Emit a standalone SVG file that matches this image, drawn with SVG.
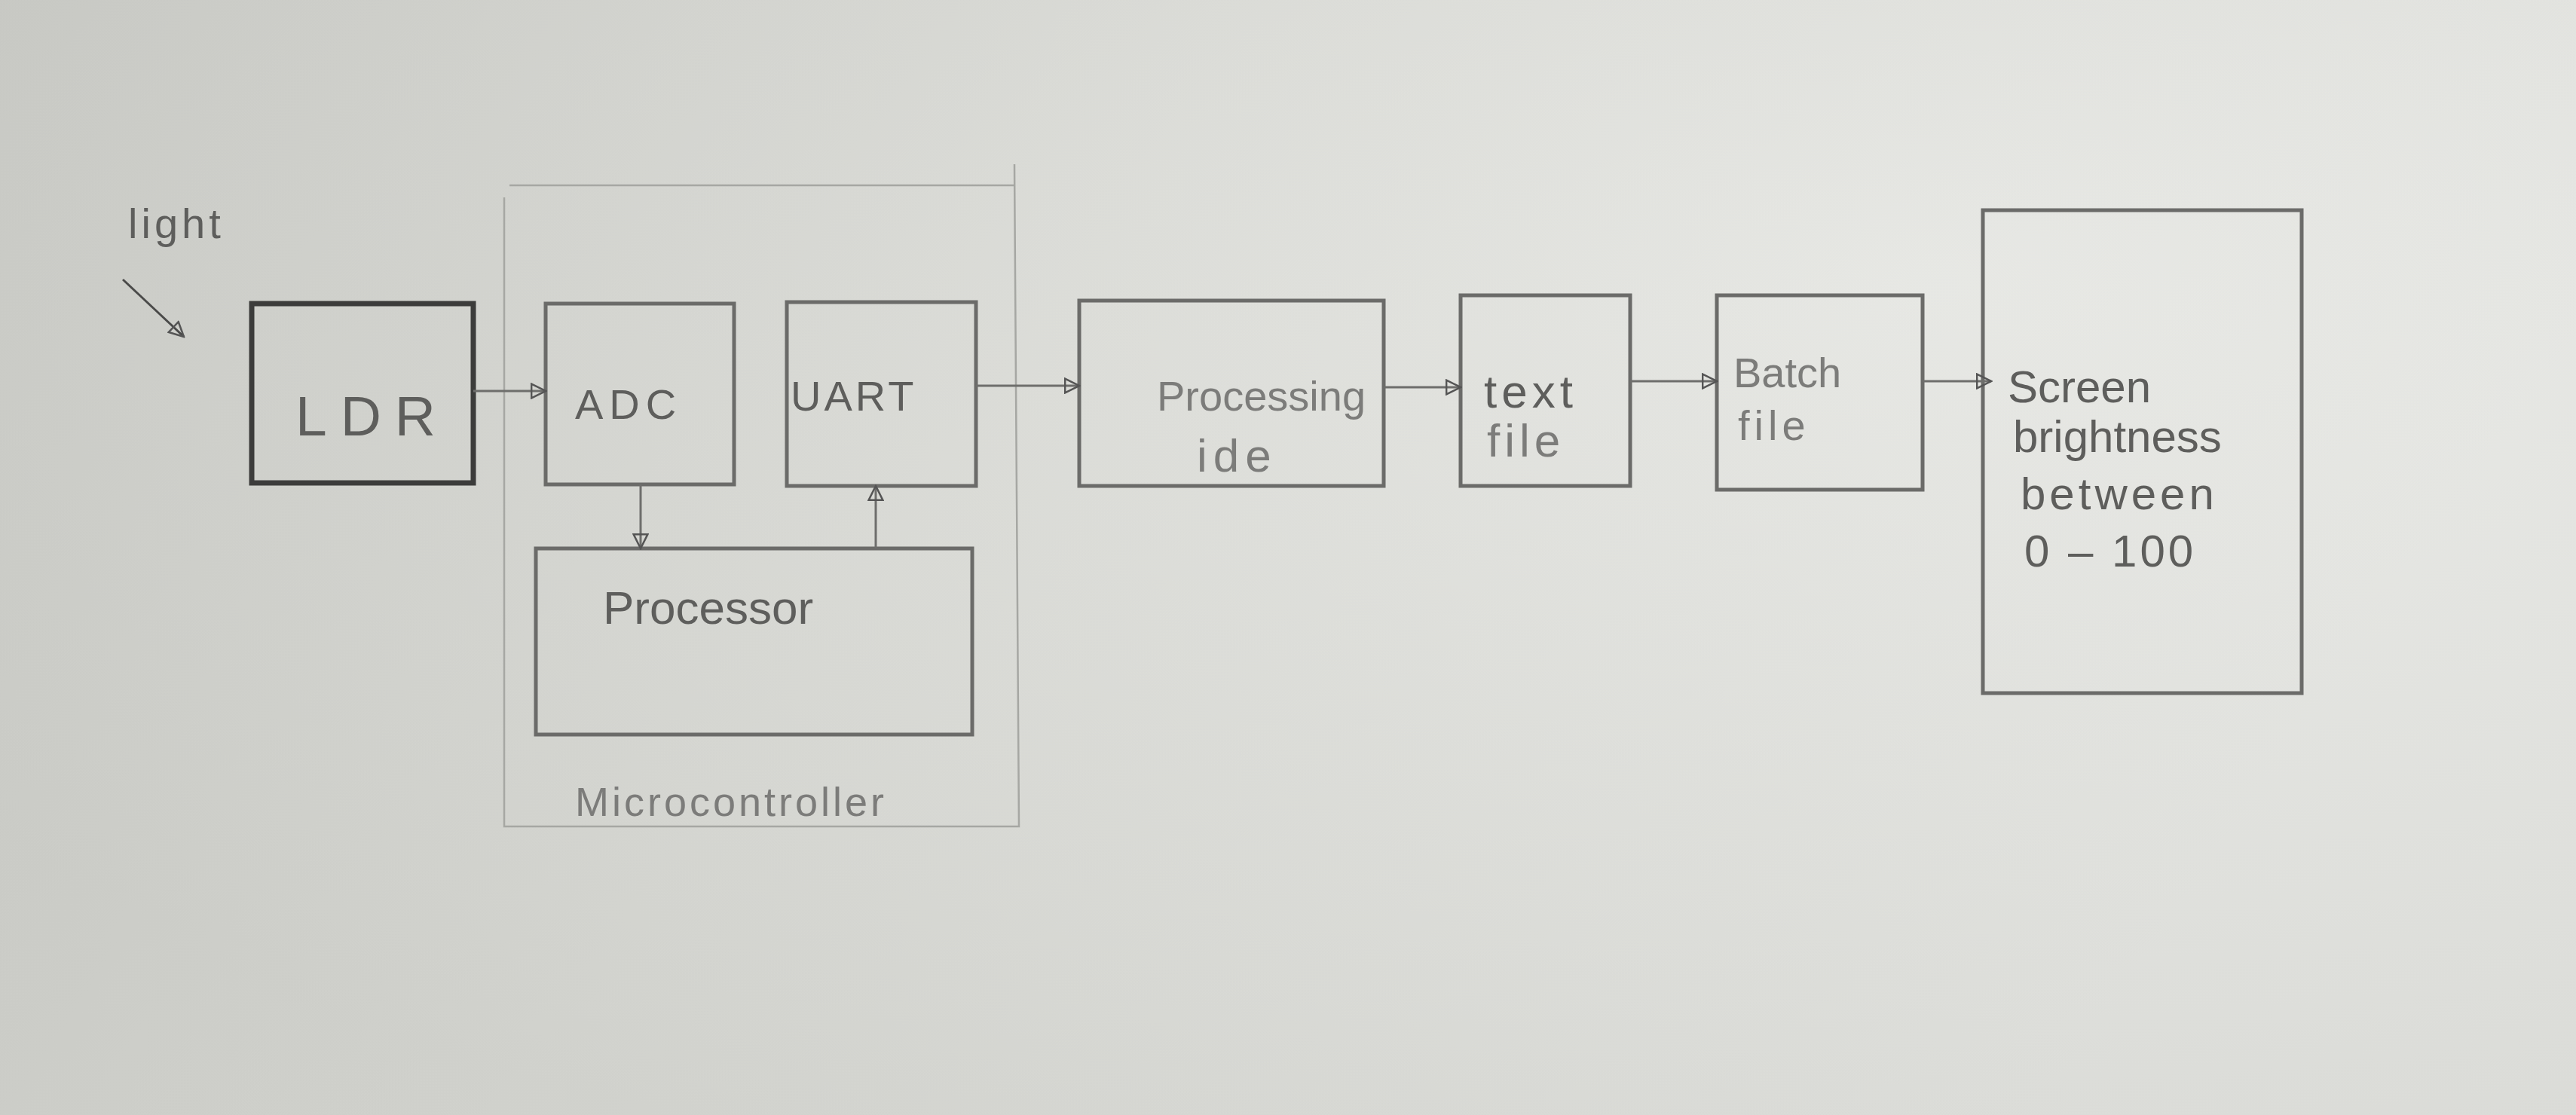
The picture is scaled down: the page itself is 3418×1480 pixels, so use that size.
<svg xmlns="http://www.w3.org/2000/svg" width="3418" height="1480" viewBox="0 0 3418 1480">
  <defs>
    <linearGradient id="paper" x1="0" y1="0" x2="1" y2="0.3">
      <stop offset="0" stop-color="#cfd0cb"/>
      <stop offset="0.45" stop-color="#dcddd8"/>
      <stop offset="1" stop-color="#e6e7e3"/>
    </linearGradient>
    <radialGradient id="shade" cx="0.75" cy="0.25" r="0.9">
      <stop offset="0" stop-color="#ffffff" stop-opacity="0.18"/>
      <stop offset="1" stop-color="#9a9b96" stop-opacity="0.18"/>
    </radialGradient>
    <marker id="openBig" viewBox="0 0 14 14" refX="13" refY="7" markerWidth="22" markerHeight="22" markerUnits="userSpaceOnUse" orient="auto">
      <path d="M1,1 L13,7 L1,13 Z" fill="none" stroke="#555" stroke-width="1.6"/>
    </marker>
  </defs>
  <style>
    .box { fill: none; stroke: #6b6b69; stroke-width: 5; }
    .dark { fill: none; stroke: #3c3c3b; stroke-width: 7; }
    .frame { fill: none; stroke: #a6a7a3; stroke-width: 2.5; }
    .wire { fill: none; stroke: #6e6e6c; stroke-width: 3; marker-end: url(#openBig); }
    .lbl { font-family: "Liberation Sans", Arial, sans-serif; fill: #5e5e5c; }
    .lbl.faint { fill: #7c7c7a; }
  </style>

  <!-- sheet of paper -->
  <rect x="0" y="0" width="3418" height="1480" fill="url(#paper)"/>
  <rect x="0" y="0" width="3418" height="1480" fill="url(#shade)"/>

  <!-- incoming light -->
  <g id="light">
    <text class="lbl" x="170" y="316" font-size="56" letter-spacing="5">light</text>
    <line x1="163" y1="371" x2="244" y2="447" stroke="#4a4a49" stroke-width="3" marker-end="url(#openBig)"/>
  </g>

  <!-- microcontroller outline -->
  <g id="microcontroller">
    <path class="frame" d="M676,246 L1346,246 M1346,218 L1352,1097 L669,1097 L669,262"/>
    <text class="lbl faint" x="763" y="1083" font-size="54" letter-spacing="4">Microcontroller</text>
  </g>

  <g id="ldr">
    <rect class="dark" x="334" y="403" width="294" height="238"/>
    <text class="lbl" x="392" y="578" font-size="75" letter-spacing="18" fill="#444">LDR</text>
  </g>

  <g id="adc">
    <rect class="box" x="724" y="403" width="250" height="240"/>
    <text class="lbl" x="763" y="556" font-size="56" letter-spacing="8">ADC</text>
  </g>

  <g id="uart">
    <rect class="box" x="1044" y="401" width="251" height="244"/>
    <text class="lbl" x="1049" y="545" font-size="56" letter-spacing="4">UART</text>
  </g>

  <g id="processor">
    <rect class="box" x="711" y="728" width="579" height="247"/>
    <text class="lbl" x="800" y="828" font-size="62">Processor</text>
  </g>

  <g id="processing-ide">
    <rect class="box" x="1432" y="399" width="404" height="246"/>
    <text class="lbl faint" x="1535" y="545" font-size="56">Processing</text>
    <text class="lbl faint" x="1588" y="626" font-size="62" letter-spacing="8">ide</text>
  </g>

  <g id="text-file">
    <rect class="box" x="1938" y="392" width="225" height="253"/>
    <text class="lbl" x="1969" y="541" font-size="62" letter-spacing="6">text</text>
    <text class="lbl faint" x="1973" y="606" font-size="62" letter-spacing="6">file</text>
  </g>

  <g id="batch-file">
    <rect class="box" x="2278" y="392" width="273" height="258"/>
    <text class="lbl faint" x="2300" y="514" font-size="56">Batch</text>
    <text class="lbl faint" x="2306" y="584" font-size="56" letter-spacing="6">file</text>
  </g>

  <g id="screen">
    <rect class="box" x="2631" y="279" width="423" height="641"/>
    <text class="lbl" x="2664" y="534" font-size="60">Screen</text>
    <text class="lbl" x="2671" y="600" font-size="60">brightness</text>
    <text class="lbl" x="2681" y="676" font-size="60" letter-spacing="5">between</text>
    <text class="lbl" x="2686" y="752" font-size="60" letter-spacing="4">0 – 100</text>
  </g>

  <!-- signal path -->
  <g id="connectors">
    <line class="wire" x1="628" y1="519" x2="724" y2="519"/>
    <line class="wire" x1="850" y1="643" x2="850" y2="728"/>
    <line class="wire" x1="1162" y1="728" x2="1162" y2="645"/>
    <line class="wire" x1="1295" y1="512" x2="1432" y2="512"/>
    <line class="wire" x1="1836" y1="514" x2="1938" y2="514"/>
    <line class="wire" x1="2163" y1="506" x2="2278" y2="506"/>
    <line class="wire" x1="2551" y1="506" x2="2642" y2="506"/>
  </g>
</svg>
